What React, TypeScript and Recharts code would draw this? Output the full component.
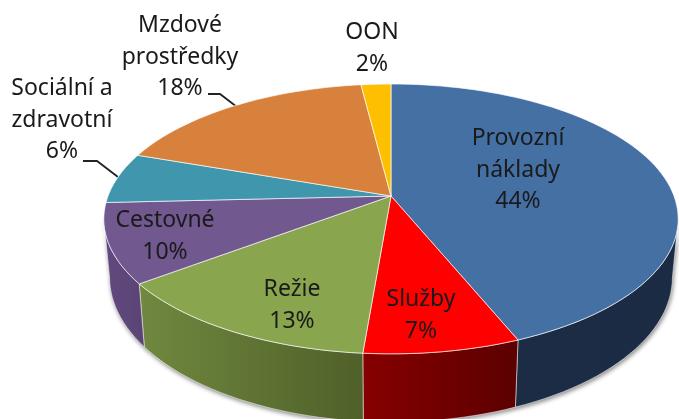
import { PieChart, Pie } from "recharts";

const categories = [
  ["Provozní", "náklady"],
  ["Služby"],
  ["Režie"],
  ["Cestovné"],
  ["Sociální a", "zdravotní"],
  ["Mzdové", "prostředky"],
  ["OON"],
];
// the printed labels are these rounded
const shares = [43.83, 7.49, 13.4, 9.5, 6.1, 17.7, 1.98];

const topColors = ["#4470a4", "#ff0000", "#89a54e", "#71588f", "#4097ad", "#d7813c", "#fdbf00"];
const wallLeft = ["#1c2c45", "#860000", "#70883f", "#62497f", "#2d6a7a", "#9a5c2a", "#b58900"];
const wallRight = ["#1b2b43", "#5c0000", "#4f6029", "#5a4474", "#2d6a7a", "#9a5c2a", "#b58900"];

// label centres and first baselines, by slice
const labelSpots = [
  [518, 145],
  [421, 306],
  [292, 296],
  [165, 227],
  [62, 95],
  [180, 32],
  [372, 39],
];
const LINE_HEIGHT = 31.6;

const data = categories.map((lines, i) => ({ name: lines.join(" "), value: shares[i] }));
const indexOfName = (name: string) => data.findIndex((d) => d.name === name);

// tilt + perspective of the pie disc
const TILT = 0.463;
const DEPTH = 0.17;
const WALL = 0.2;
const SHRINK = 0.98;

const project = (p: any, deg: number, down = false) => {
  const a = (deg * Math.PI) / 180;
  const u = Math.cos(a);
  const v = -Math.sin(a);
  const w = 1 - DEPTH * v;
  const R = p.outerRadius;
  let x = (R * u) / w;
  let y = (R * TILT * v) / w;
  if (down) {
    x *= SHRINK;
    y += (R * WALL) / w;
  }
  return [p.cx + x, p.cy + y];
};

const arc = (p: any, from: number, to: number, down = false) => {
  const n = Math.max(2, Math.ceil(Math.abs(from - to) / 2));
  const pts = [];
  for (let i = 0; i <= n; i++) pts.push(project(p, from + ((to - from) * i) / n, down));
  return pts;
};

const toPath = (pts: number[][]) =>
  "M" + pts.map((q) => q[0].toFixed(1) + " " + q[1].toFixed(1)).join("L") + "Z";

const TopFace = (p: any) => {
  const i = indexOfName(p.name);
  const d = toPath([[p.cx, p.cy], ...arc(p, p.startAngle, p.endAngle)]);
  return <path d={d} fill={topColors[i]} stroke="#ffffff" strokeOpacity={0.65} strokeWidth={1} />;
};

const WallFace = (p: any) => {
  const i = indexOfName(p.name);
  // only the front of the rim can be seen
  const from = Math.min(p.startAngle, -10);
  const to = Math.max(p.endAngle, -170);
  if (from <= to) return <g />;
  const d = toPath([...arc(p, from, to), ...arc(p, to, from, true)]);
  const id = "wall" + i;
  return (
    <g>
      <defs>
        <linearGradient id={id} x1="0" y1="0" x2="1" y2="0">
          <stop offset="0%" stopColor={wallLeft[i]} />
          <stop offset="100%" stopColor={wallRight[i]} />
        </linearGradient>
      </defs>
      <path d={d} fill={`url(#${id})`} stroke="#ffffff" strokeOpacity={0.5} strokeWidth={1} />
    </g>
  );
};

const SliceLabel = (p: any) => {
  const i = indexOfName(p.name);
  const [x, y] = labelSpots[i];
  const lines = [...categories[i], Math.round(shares[i]) + "%"];
  return (
    <text textAnchor="middle" fontFamily="'Noto Sans'" fontSize={23} fill="#1a1a1a">
      {lines.map((t, k) => (
        <tspan key={k} x={x} y={y + k * LINE_HEIGHT}>
          {t}
        </tspan>
      ))}
    </text>
  );
};

const App = () => {
  return (
    <div
      style={{
        position: "absolute",
        left: 0,
        top: 0,
        width: 679,
        height: 419,
        overflow: "hidden",
        filter: "blur(0.4px)",
      }}
    >
      <style>{`.walls { filter: drop-shadow(1px 2px 2px rgba(0,0,0,0.45)); }`}</style>
      <PieChart width={679} height={419} margin={{ top: 0, right: 0, bottom: 0, left: 0 }}>
        <Pie
          className="walls"
          data={data}
          dataKey="value"
          nameKey="name"
          cx={391}
          cy={196}
          outerRadius={283}
          startAngle={90}
          endAngle={-270}
          shape={WallFace}
          isAnimationActive={false}
        />
        <Pie
          data={data}
          dataKey="value"
          nameKey="name"
          cx={391}
          cy={196}
          outerRadius={283}
          startAngle={90}
          endAngle={-270}
          shape={TopFace}
          label={SliceLabel}
          labelLine={false}
          isAnimationActive={false}
        />
        <polyline points="208,94 220,94 237,107" fill="none" stroke="#222222" strokeWidth={1.8} />
        <polyline points="83,161 97,161 118,177" fill="none" stroke="#222222" strokeWidth={1.8} />
      </PieChart>
    </div>
  );
};

export default App;
